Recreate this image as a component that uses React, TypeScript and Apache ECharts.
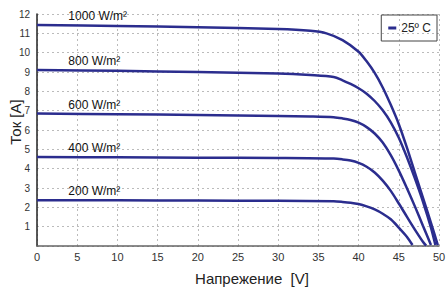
import React, { useEffect, useRef } from "react";
import * as echarts from "echarts";

const seriesNames = ["1000 W/m²", "800 W/m²", "600 W/m²", "400 W/m²", "200 W/m²"];

const curve1000: number[][] = [
  [0, 11.43], [10, 11.38], [20, 11.31], [30, 11.22], [34, 11.13], [36, 11.0], [38, 10.65],
  [40, 10.05], [41, 9.55], [42, 8.95], [43, 8.2], [44, 7.3], [45, 6.3], [46, 5.1], [47, 3.8],
  [48, 2.5], [49, 1.2], [49.85, 0.05],
];
const curve800: number[][] = [
  [0, 9.1], [10, 9.06], [20, 9.0], [30, 8.92], [34, 8.84], [36.9, 8.74], [38, 8.57],
  [39, 8.38], [40, 8.16], [41, 7.88], [42, 7.5], [43, 7.02], [44, 6.4], [45, 5.6], [46, 4.6],
  [47, 3.5], [48, 2.3], [49, 0.95], [49.55, 0.05],
];
const curve600: number[][] = [
  [0, 6.85], [10, 6.82], [20, 6.78], [30, 6.73], [34, 6.7], [36.9, 6.66], [38, 6.6],
  [39, 6.52], [40, 6.38], [41, 6.15], [42, 5.82], [43, 5.35], [44, 4.7], [45, 3.9], [46, 3.0],
  [47, 2.05], [48, 1.05], [49, 0.05],
];
const curve400: number[][] = [
  [0, 4.6], [10, 4.59], [20, 4.57], [30, 4.55], [36.9, 4.52], [38, 4.48], [39, 4.42],
  [40, 4.3], [41, 4.1], [42, 3.8], [43, 3.38], [44, 2.85], [45, 2.2], [46, 1.52], [47, 0.85],
  [48, 0.22], [48.4, 0.02],
];
const curve200: number[][] = [
  [0, 2.37], [10, 2.36], [20, 2.35], [30, 2.34], [36.9, 2.31], [38, 2.28], [39, 2.24],
  [40, 2.17], [41, 2.05], [42, 1.89], [43, 1.67], [44, 1.38], [45, 0.95], [46, 0.48],
  [46.7, 0.05],
];
const curves = [curve1000, curve800, curve600, curve400, curve200];

const legendName = "25º C";
const xTitle = "Напрежение  [V]";
const yTitle = "Ток [A]";
const labelVoltage = 3.9;

const LINE = "#2b2d8e";
const FONT = "Liberation Sans, Arial, sans-serif";

export default function App() {
  const ref = useRef<HTMLDivElement>(null);
  useEffect(() => {
    const chart = echarts.init(ref.current!, undefined, { renderer: "svg" });
    const grid = {
      left: 37,
      right: 7,
      top: 14,
      bottom: 42,
      containLabel: false,
      outerBoundsMode: "none",
    };
    chart.setOption({
      animation: false,
      grid,
      legend: {
        data: [legendName],
        right: 9,
        top: 15,
        padding: [7, 6, 7, 7],
        borderColor: "#444",
        borderWidth: 1,
        icon: "rect",
        itemWidth: 8,
        itemHeight: 3,
        itemGap: 5,
        textStyle: { fontFamily: FONT, fontSize: 12, color: "#222" },
      },
      xAxis: {
        type: "value",
        min: 0,
        max: 50,
        interval: 5,
        name: xTitle,
        nameLocation: "middle",
        nameGap: 25,
        nameMoveOverlap: false,
        nameTextStyle: {
          fontFamily: FONT,
          fontSize: 15,
          color: "#222",
          padding: [0, 0, 0, 28],
        },
        axisLine: { lineStyle: { color: "#666", width: 1.5 } },
        axisTick: { show: false },
        axisLabel: { fontFamily: FONT, fontSize: 11, color: "#333", margin: 5 },
        splitLine: { show: true, lineStyle: { color: "#bbb", type: [2, 3], width: 1 } },
      },
      yAxis: {
        type: "value",
        min: 0,
        max: 12,
        interval: 1,
        name: yTitle,
        nameLocation: "middle",
        nameGap: 14,
        nameMoveOverlap: false,
        nameTextStyle: {
          fontFamily: FONT,
          fontSize: 15,
          color: "#222",
          padding: [0, 0, 0, 16],
        },
        axisLine: { show: true, lineStyle: { color: "#222", width: 1.5 } },
        axisTick: { show: false },
        axisLabel: {
          fontFamily: FONT,
          fontSize: 10,
          color: "#333",
          margin: 7,
          showMinLabel: false,
        },
        splitLine: { show: true, lineStyle: { color: "#bbb", type: [2, 3], width: 1 } },
      },
      series: curves.map((c, i) => ({
        name: i === 0 ? legendName : seriesNames[i],
        type: "line",
        data: c,
        smooth: 0.3,
        showSymbol: false,
        symbol: "none",
        lineStyle: { color: LINE, width: 2.5 },
        itemStyle: { color: LINE },
      })),
    });
    const graphic = curves.map((c, i) => {
      const p = chart.convertToPixel({ gridIndex: 0 }, [labelVoltage, c[0][1]]) as number[];
      return {
        type: "text",
        left: p[0],
        top: p[1] - 15,
        style: {
          text: seriesNames[i],
          fontFamily: FONT,
          fontSize: 12,
          fill: "#111",
        },
      };
    });
    chart.setOption({ graphic });
    return () => chart.dispose();
  }, []);
  return (
    <div
      ref={ref}
      style={{ position: "absolute", left: 0, top: 0, width: 446, height: 288 }}
    />
  );
}
